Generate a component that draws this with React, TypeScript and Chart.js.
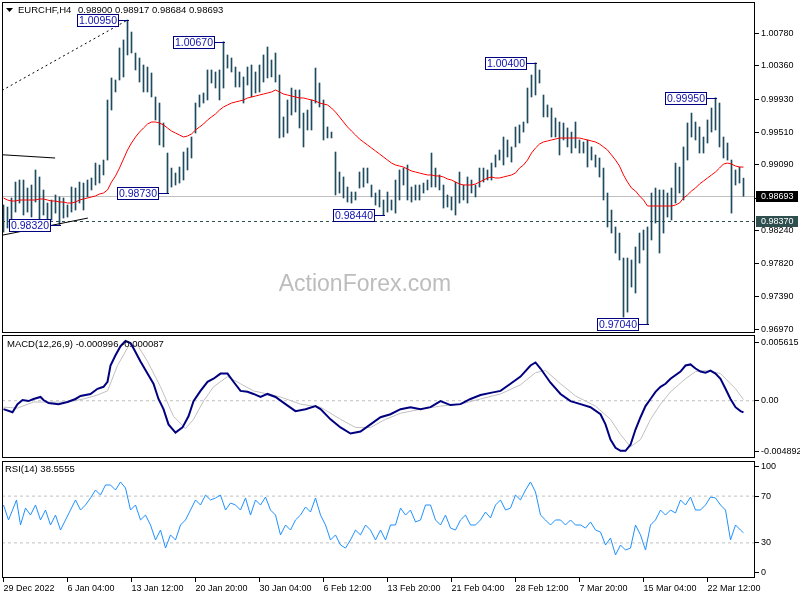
import React, { useEffect, useRef } from 'react';
import { Chart, registerables } from 'chart.js';

Chart.register(...registerables);

const FONT = "'Liberation Sans', Arial, sans-serif";

// ---------- DATA ----------
const symbolTitle = 'EURCHF,H4';
const headerQuote = ['0.98900', '0.98917', '0.98684', '0.98693'];
const watermark = 'ActionForex.com';

const timeLabels = ['29 Dec 2022', '6 Jan 04:00', '13 Jan 12:00', '20 Jan 20:00', '30 Jan 04:00', '6 Feb 12:00',
  '13 Feb 20:00', '21 Feb 04:00', '28 Feb 12:00', '7 Mar 20:00', '15 Mar 04:00', '22 Mar 12:00'];
const timeLabelBars = [0, 16, 32, 48, 64, 80, 96, 112, 128, 144, 160, 176];

const barHigh = [
  0.98572, 0.98546, 0.98662, 0.98867, 0.98893, 0.98893, 0.98790, 0.98829, 0.99022, 0.98932,
  0.98765, 0.98597, 0.98636, 0.98701, 0.98675, 0.98662, 0.98572, 0.98803, 0.98790, 0.98867,
  0.98854, 0.98893, 0.98919, 0.99111, 0.99086, 0.99150, 0.99922, 1.00205, 1.00179, 1.00591,
  1.00694, 1.00950, 1.00796, 1.00526, 1.00462, 1.00372, 1.00346, 1.00269, 0.99961, 0.99883,
  0.99626, 0.99240, 0.99047, 0.98983, 0.99060, 0.99253, 0.99305, 0.99446, 0.99883, 0.99986,
  1.00012, 1.00308, 1.00308, 1.00282, 1.00308, 1.00670, 1.00501, 1.00462, 1.00346, 1.00282,
  1.00218, 1.00346, 1.00372, 1.00282, 1.00372, 1.00501, 1.00604, 1.00436, 1.00526, 1.00243,
  0.99704, 0.99922, 1.00076, 1.00051, 1.00051, 0.99754, 0.99793, 0.99922, 1.00333, 1.00140,
  0.99922, 0.99575, 0.99510, 0.99253, 0.98996, 0.98932, 0.98803, 0.98739, 0.98739, 0.98996,
  0.99047, 0.99047, 0.98829, 0.98726, 0.98765, 0.98636, 0.98739, 0.98636, 0.98893, 0.99022,
  0.99047, 0.99086, 0.98803, 0.98829, 0.98829, 0.98854, 0.98893, 0.99240, 0.99047, 0.98958,
  0.98829, 0.98701, 0.98675, 0.98867, 0.98996, 0.98829, 0.98932, 0.98893, 0.98829, 0.99047,
  0.99047, 0.99022, 0.99111, 0.99215, 0.99279, 0.99446, 0.99408, 0.99318, 0.99575, 0.99601,
  0.99639, 1.00076, 1.00243, 1.00400, 1.00308, 0.99986, 0.99858, 0.99819, 0.99691, 0.99639,
  0.99626, 0.99562, 0.99510, 0.99639, 0.99408, 0.99382, 0.99408, 0.99318, 0.99215, 0.99176,
  0.99047, 0.98726, 0.98507, 0.98289, 0.98211, 0.97890, 0.97890, 0.97864, 0.98032, 0.98211,
  0.98250, 0.98289, 0.98726, 0.98790, 0.98765, 0.98765, 0.98726, 0.98790, 0.99111, 0.99060,
  0.99318, 0.99626, 0.99754, 0.99639, 0.99575, 0.99446, 0.99665, 0.99819, 0.99950, 0.99883,
  0.99446, 0.99369, 0.99150, 0.99022, 0.99060, 0.98917,
];

const barLow = [
  0.98224, 0.98276, 0.98353, 0.98481, 0.98597, 0.98443, 0.98481, 0.98417, 0.98610, 0.98379,
  0.98443, 0.98289, 0.98379, 0.98468, 0.98320, 0.98404, 0.98417, 0.98481, 0.98507, 0.98597,
  0.98507, 0.98675, 0.98765, 0.98829, 0.98854, 0.98958, 0.99150, 0.99793, 1.00025, 1.00179,
  1.00218, 1.00501, 1.00526, 1.00308, 1.00153, 1.00025, 1.00025, 0.99961, 0.99665, 0.99344,
  0.99318, 0.98730, 0.98803, 0.98829, 0.98854, 0.98893, 0.99022, 0.99176, 0.99497, 0.99832,
  0.99883, 0.99922, 1.00140, 1.00076, 0.99922, 1.00076, 1.00333, 1.00282, 1.00089, 1.00089,
  0.99883, 1.00115, 0.99961, 1.00012, 1.00025, 1.00153, 1.00205, 1.00218, 1.00153, 0.99434,
  0.99446, 0.99497, 0.99729, 0.99767, 0.99562, 0.99318, 0.99536, 0.99536, 0.99883, 0.99832,
  0.99408, 0.99434, 0.99434, 0.98701, 0.98726, 0.98662, 0.98610, 0.98597, 0.98636, 0.98790,
  0.98803, 0.98854, 0.98675, 0.98572, 0.98546, 0.98440, 0.98481, 0.98507, 0.98468, 0.98636,
  0.98829, 0.98636, 0.98610, 0.98636, 0.98636, 0.98726, 0.98765, 0.98803, 0.98803, 0.98765,
  0.98533, 0.98546, 0.98507, 0.98443, 0.98597, 0.98636, 0.98597, 0.98726, 0.98675, 0.98803,
  0.98867, 0.98893, 0.98893, 0.99060, 0.99150, 0.99086, 0.99189, 0.99124, 0.99318, 0.99369,
  0.99510, 0.99626, 0.99961, 0.99986, 1.00140, 0.99704, 0.99704, 0.99446, 0.99446, 0.99215,
  0.99408, 0.99318, 0.99240, 0.99305, 0.99240, 0.99240, 0.99060, 0.99150, 0.99060, 0.98932,
  0.98636, 0.98289, 0.98211, 0.97954, 0.97864, 0.97131, 0.97195, 0.97517, 0.97440, 0.97825,
  0.97993, 0.97040, 0.98122, 0.98340, 0.97954, 0.98211, 0.98417, 0.98379, 0.98597, 0.98726,
  0.98636, 0.99150, 0.99446, 0.99408, 0.99240, 0.99240, 0.99369, 0.99510, 0.99536, 0.99318,
  0.99176, 0.99150, 0.98468, 0.98829, 0.98854, 0.98684,
];

const maValues = [
  0.98662, 0.98636, 0.98623, 0.98623, 0.98636, 0.98636, 0.98636, 0.98636, 0.98636, 0.98649,
  0.98649, 0.98636, 0.98623, 0.98623, 0.98610, 0.98610, 0.98597, 0.98597, 0.98610, 0.98636,
  0.98649, 0.98662, 0.98675, 0.98688, 0.98714, 0.98726, 0.98765, 0.98867, 0.98945, 0.99047,
  0.99163, 0.99279, 0.99369, 0.99446, 0.99510, 0.99562, 0.99613, 0.99639, 0.99639, 0.99626,
  0.99601, 0.99562, 0.99523, 0.99497, 0.99472, 0.99446, 0.99459, 0.99485, 0.99536, 0.99575,
  0.99613, 0.99665, 0.99704, 0.99742, 0.99793, 0.99832, 0.99858, 0.99883, 0.99896, 0.99909,
  0.99922, 0.99948, 0.99961, 0.99973, 0.99986, 0.99999, 1.00012, 1.00025, 1.00051, 1.00025,
  0.99999, 0.99986, 0.99973, 0.99961, 0.99948, 0.99948, 0.99935, 0.99922, 0.99909, 0.99883,
  0.99870, 0.99858, 0.99819, 0.99767, 0.99704, 0.99639, 0.99575, 0.99523, 0.99472, 0.99420,
  0.99382, 0.99344, 0.99305, 0.99266, 0.99228, 0.99189, 0.99150, 0.99111, 0.99086, 0.99073,
  0.99060, 0.99034, 0.99009, 0.98996, 0.98983, 0.98970, 0.98958, 0.98958, 0.98945, 0.98945,
  0.98932, 0.98906, 0.98893, 0.98867, 0.98842, 0.98829, 0.98829, 0.98829, 0.98842, 0.98867,
  0.98893, 0.98919, 0.98932, 0.98919, 0.98919, 0.98932, 0.98945, 0.98958, 0.98983, 0.99047,
  0.99086, 0.99150, 0.99240, 0.99305, 0.99356, 0.99382, 0.99395, 0.99408, 0.99420, 0.99433,
  0.99433, 0.99433, 0.99433, 0.99433, 0.99433, 0.99420, 0.99408, 0.99395, 0.99382, 0.99356,
  0.99318, 0.99279, 0.99215, 0.99150, 0.99073, 0.98958, 0.98867, 0.98790, 0.98752, 0.98688,
  0.98636, 0.98559, 0.98559, 0.98559, 0.98559, 0.98559, 0.98559, 0.98559, 0.98572, 0.98597,
  0.98662, 0.98701, 0.98752, 0.98790, 0.98842, 0.98880, 0.98919, 0.98958, 0.98996, 0.99047,
  0.99099, 0.99111, 0.99099, 0.99073, 0.99060, 0.99060,
];

const priceTicks = [0.9697, 0.9739, 0.9782, 0.9824, 0.9866, 0.9909, 0.9951, 0.9993, 1.0036, 1.0078];
const priceMin = 0.96926;
const priceMax = 1.01182;
const lastPrice = 0.98693;
const supportLevel = 0.9837;

const markBars = [31, 14, 41, 55, 95, 133, 161, 178];
const markPrices = [1.0095, 0.9832, 0.9873, 1.0067, 0.9844, 1.004, 0.9704, 0.9995];

const trendDotX = [-0.375, 31];
const trendDotY = [1.00045, 1.0095];
const trendUpperX = [-0.375, 12.9];
const trendUpperY = [0.99218, 0.99176];
const trendLowerX = [-0.375, 21.1];
const trendLowerY = [0.98183, 0.98404];

const macdIdx = [0, 2.25, 3.5, 4.75, 6.25, 7.5, 9.25, 10, 11.25, 13.75, 16, 18, 19.25, 21.75, 23.5, 25, 26, 26.75, 28,
  29.25, 30.5, 31.75, 32.5, 34.25, 36, 37.5, 38.75, 40, 41.25, 43, 44.75, 46.25, 47.5, 49.25, 51, 52.5, 54.25, 56,
  57.5, 59.25, 61, 62.5, 64.25, 66, 68, 70.5, 73, 75.5, 78, 79.25, 81.75, 84.25, 86.75, 89.25, 91.75, 94.25, 96.75,
  99.25, 101.75, 104.25, 106.75, 109.25, 111.75, 114.25, 116.75, 119.25, 121.75, 124.25, 126.75, 129.25, 131.75,
  133, 134.25, 136.75, 139.25, 141.75, 144.25, 146.75, 149.25, 150.5, 151.75, 153, 154.25, 155.5, 156.75, 158,
  159.25, 160.5, 161.75, 163, 164.25, 165.5, 166.75, 169.25, 170.5, 171.75, 173, 174.25, 175.5, 176.75, 178,
  179.25, 180.5, 181.75, 183, 184.25, 185];
const macdVal = [-0.00072, -0.00098, -0.00029, 0.00006, -0.00003, 0.00015, 0.00032, 0.00006, -0.0002, -0.00029,
  -0.00011, 0.00015, 0.00041, 0.00058, 0.00102, 0.00119, 0.00162, 0.00301, 0.00388, 0.00466, 0.0051, 0.00492,
  0.00449, 0.00336, 0.00232, 0.00145, 0.00015, -0.00072, -0.00202, -0.00272, -0.00228, -0.00133, -0.00003, 0.00084,
  0.00162, 0.00188, 0.00232, 0.00232, 0.00162, 0.00084, 0.00076, 0.00058, 0.00032, 0.00058, 0.00032, -0.00029,
  -0.00089, -0.00072, -0.00046, -0.00072, -0.00159, -0.00228, -0.0028, -0.00263, -0.00202, -0.00141, -0.00115,
  -0.00072, -0.00055, -0.00072, -0.00055, -0.00003, -0.00037, -0.00029, 0.00015, 0.00049, 0.00067, 0.00084,
  0.00145, 0.00206, 0.00301, 0.00327, 0.00275, 0.00154, 0.00058, -0.00003, -0.00029, -0.00055, -0.00115, -0.00202,
  -0.00332, -0.00402, -0.00428, -0.00428, -0.00376, -0.00246, -0.00141, -0.00046, 0.00015, 0.00076, 0.00119,
  0.00145, 0.00188, 0.00249, 0.00301, 0.0031, 0.00275, 0.00249, 0.0024, 0.00258, 0.00232, 0.00188, 0.00102,
  0.00015, -0.00055, -0.00089, -0.001];

const signalIdx = [0, 3.5, 7.5, 11.75, 16, 20, 23.5, 26, 28.5, 31.25, 33.5, 36, 39.25, 42.5, 45.5, 47.5, 50, 52.5,
  56, 59.25, 62.5, 66, 69.25, 74.25, 79.25, 84.25, 88, 91.75, 95.5, 99.25, 104.25, 109.25, 114.25, 119.25, 124.25,
  129.25, 133, 135.5, 139.25, 143, 148, 151.75, 154.25, 156.75, 159.25, 161.75, 164.25, 166.75, 170.5, 173, 175.5,
  179.25, 183, 185];
const signalVal = [-0.00055, -0.00063, -0.00011, -0.00011, -0.00011, 0.00015, 0.00049, 0.00084, 0.00301, 0.00466,
  0.00475, 0.00336, 0.00119, -0.00133, -0.00237, -0.00159, -0.00003, 0.00119, 0.00206, 0.00145, 0.00084, 0.00058,
  0.00032, -0.00029, -0.00055, -0.00159, -0.00228, -0.00228, -0.00159, -0.00107, -0.00072, -0.00046, -0.00029,
  0.00015, 0.00058, 0.00136, 0.0024, 0.00258, 0.00145, 0.00041, -0.00046, -0.00159, -0.00289, -0.00393, -0.00332,
  -0.00159, -0.00029, 0.00076, 0.00188, 0.00249, 0.00258, 0.00232, 0.00102, 0.0001];

const macdMin = -0.004892;
const macdMax = 0.005615;
const macdTickPos = [0.0050, 0, -0.00436];
const macdTickText = ['0.005615', '0.00', '-0.004892'];
const macdHeader = 'MACD(12,26,9) -0.000996 -0.000087';

const rsiIdx = [0, 1.25, 2.25, 3.25, 4.25, 5.5, 6.75, 8, 9.25, 10.5, 11.75, 13, 14.25, 15.5, 16.75, 18, 19.25, 20.5,
  21.75, 23, 24.25, 25.5, 26.75, 28, 29.25, 30.5, 31.75, 33, 34.25, 35.5, 36.75, 38, 39.25, 40.5, 41.75, 43, 44.25,
  45.5, 46.75, 48, 49.25, 50.5, 51.75, 53, 54.25, 55.5, 56.75, 58, 59.25, 60.5, 61.75, 63, 64.25, 65.5, 66.75, 68,
  69.25, 70.5, 71.75, 73, 74.25, 75.5, 76.75, 78, 79.25, 80.5, 81.75, 83, 84.25, 85.5, 86.75, 88, 89.25, 90.5,
  91.75, 93, 94.25, 95.5, 96.75, 98, 99.25, 100.5, 101.75, 103, 104.25, 105.5, 106.75, 108, 109.25, 110.5, 111.75,
  113, 114.25, 115.5, 116.75, 118, 119.25, 120.5, 121.75, 123, 124.25, 125.5, 126.75, 128, 129.25, 130.5, 131.75,
  133, 134.25, 135.5, 136.75, 138, 139.25, 140.5, 141.75, 143, 144.25, 145.5, 146.75, 148, 149.25, 150.5, 151.75,
  153, 154.25, 155.5, 156.75, 158, 159.25, 160.5, 161.75, 163, 164.25, 165.5, 166.75, 168, 169.25, 170.5, 171.75,
  173, 174.25, 175.5, 176.75, 178, 179.25, 180.5, 181.75, 183, 184.25, 185];
const rsiVal = [62.4, 49.6, 58.1, 66.7, 45.3, 59.8, 53.8, 62.4, 49.6, 58.1, 45.3, 53.8, 41.0, 49.6, 58.1, 66.7, 58.1,
  62.4, 68.4, 75.2, 70.9, 79.5, 79.5, 75.2, 82.1, 76.9, 58.1, 62.4, 49.6, 53.8, 45.3, 32.5, 41.0, 25.6, 36.8, 32.5,
  45.3, 49.6, 58.1, 66.7, 62.4, 70.9, 66.7, 68.4, 70.9, 58.1, 64.1, 62.4, 58.1, 68.4, 53.8, 66.7, 62.4, 69.2, 58.1,
  53.8, 36.8, 45.3, 41.0, 49.6, 53.8, 60.7, 56.4, 68.4, 53.8, 45.3, 32.5, 36.8, 28.2, 25.6, 32.5, 41.0, 36.8, 45.3,
  41.0, 32.5, 41.0, 32.5, 45.3, 45.3, 59.8, 53.8, 58.1, 47.9, 49.6, 62.4, 62.4, 49.6, 45.3, 53.8, 42.7, 41.0, 49.6,
  53.8, 45.3, 45.3, 49.6, 56.4, 51.3, 62.4, 66.7, 58.1, 59.8, 70.9, 66.7, 75.2, 82.1, 73.5, 53.8, 49.6, 45.3, 49.6,
  49.6, 45.3, 49.6, 45.3, 45.3, 42.7, 47.9, 41.0, 39.3, 28.2, 34.2, 19.7, 28.2, 23.9, 25.6, 45.3, 36.8, 23.9, 45.3,
  49.6, 58.1, 53.8, 58.1, 55.6, 66.7, 62.4, 69.2, 58.1, 58.1, 62.4, 69.2, 68.4, 62.4, 58.1, 32.5, 45.3, 41.0, 38.6];
const rsiLevels = [70, 30];
const rsiTickPos = [95.2, 70, 30, 4.6];
const rsiTickText = ['100', '70', '30', '0'];
const rsiHeader = 'RSI(14) 38.5555';

// ---------- STYLE ----------
const X_MIN = -0.375;
const X_MAX = 187.875;
const BAR_COLOR = '#1d4b60';
const AXIS_W = 45;

const pts = (xs: number[], ys: number[]) => xs.map((x, i) => ({ x, y: ys[i] }));

const framePlugin = {
  id: 'frame',
  afterDraw(chart: any) {
    const { ctx, chartArea: a } = chart;
    ctx.save();
    ctx.strokeStyle = '#000';
    ctx.lineWidth = 1;
    ctx.strokeRect(a.left + 0.5, a.top + 0.5, a.right - a.left - 1, a.bottom - a.top - 1);
    ctx.restore();
  },
};

const zeroPad = (s: any) => {
  s.paddingTop = 0; s.paddingBottom = 0; s.paddingLeft = 0; s.paddingRight = 0;
};

const hiddenX = { type: 'linear', min: X_MIN, max: X_MAX, display: false, offset: false };

const rightAxis = (extra: any) => ({
  type: 'linear',
  position: 'right',
  afterFit: (s: any) => { s.width = AXIS_W; zeroPad(s); },
  grid: { display: true, drawOnChartArea: false, drawTicks: true, tickLength: 4, color: '#000' },
  border: { display: false },
  ...extra,
});

const tickFont = { family: FONT, size: 9 };

const pricePlugin = {
  id: 'priceDecor',
  beforeDatasetsDraw(chart: any) {
    const { ctx, chartArea: a, scales } = chart;
    const y = scales.y;
    ctx.save();
    ctx.font = `23px ${FONT}`;
    ctx.fillStyle = '#bdbdbd';
    ctx.textAlign = 'center';
    ctx.textBaseline = 'middle';
    ctx.fillText(watermark, 365, 285);
    ctx.lineWidth = 1;
    const yp = Math.round(y.getPixelForValue(lastPrice)) + 0.5;
    ctx.strokeStyle = '#c0c0c0';
    ctx.beginPath(); ctx.moveTo(a.left, yp); ctx.lineTo(a.right, yp); ctx.stroke();
    const ys = Math.round(y.getPixelForValue(supportLevel)) + 0.5;
    ctx.strokeStyle = '#2f4f4f';
    ctx.setLineDash([3, 3]);
    ctx.beginPath(); ctx.moveTo(a.left, ys); ctx.lineTo(a.right, ys); ctx.stroke();
    ctx.restore();
  },
  afterDatasetsDraw(chart: any) {
    const { ctx, scales } = chart;
    const { x, y } = scales;
    ctx.save();
    ctx.lineWidth = 1;
    ctx.font = `10.5px ${FONT}`;
    ctx.textAlign = 'center';
    ctx.textBaseline = 'middle';
    markBars.forEach((b, k) => {
      const bx = Math.round(x.getPixelForValue(b));
      const py = Math.round(y.getPixelForValue(markPrices[k])) + 0.5;
      const right = bx - 9;
      const left = right - 42;
      ctx.strokeStyle = '#000080';
      ctx.beginPath(); ctx.moveTo(right, py); ctx.lineTo(bx + 1, py); ctx.stroke();
      ctx.fillStyle = '#fff';
      ctx.fillRect(left, py - 6.5, 42, 13);
      ctx.strokeRect(left + 0.5, py - 6, 41, 12);
      ctx.fillStyle = '#1010b0';
      ctx.fillText(markPrices[k].toFixed(5), left + 21, py + 0.5);
    });
    ctx.restore();
  },
  afterDraw(chart: any) {
    const { ctx, chartArea: a, scales } = chart;
    const y = scales.y;
    ctx.save();
    const boxes = [
      { v: lastPrice, bg: '#000' },
      { v: supportLevel, bg: '#2f4f4f' },
    ];
    ctx.font = `9px ${FONT}`;
    ctx.textAlign = 'left';
    ctx.textBaseline = 'middle';
    boxes.forEach((b) => {
      const py = Math.round(y.getPixelForValue(b.v));
      ctx.fillStyle = b.bg;
      ctx.fillRect(a.right + 1, py - 5, 42, 11);
      ctx.fillStyle = '#fff';
      ctx.fillText(b.v.toFixed(5), a.right + 6, py + 0.5);
    });
    // header
    ctx.fillStyle = '#000';
    ctx.beginPath(); ctx.moveTo(6, 8); ctx.lineTo(13, 8); ctx.lineTo(9.5, 12); ctx.closePath(); ctx.fill();
    ctx.font = `9.5px ${FONT}`;
    ctx.fillText(symbolTitle, 18, 10.5);
    ctx.fillText(headerQuote.join(' '), 78, 10.5);
    ctx.restore();
  },
};

const headerPlugin = (id: string, text: string, px: number, py: number) => ({
  id,
  afterDraw(chart: any) {
    const { ctx } = chart;
    ctx.save();
    ctx.font = `9.5px ${FONT}`;
    ctx.fillStyle = '#000';
    ctx.textAlign = 'left';
    ctx.textBaseline = 'middle';
    ctx.fillText(text, px, py);
    ctx.restore();
  },
});

export default function App() {
  const priceRef = useRef<HTMLCanvasElement>(null);
  const macdRef = useRef<HTMLCanvasElement>(null);
  const rsiRef = useRef<HTMLCanvasElement>(null);

  useEffect(() => {
    Chart.defaults.font.family = FONT;
    const common = {
      responsive: false,
      animation: false,
      events: [],
      plugins: { legend: { display: false }, tooltip: { enabled: false } },
    };

    const price = new Chart(priceRef.current!, {
      type: 'bar',
      data: {
        datasets: [
          {
            type: 'line', data: pts(maValues.map((_, i) => i), maValues), borderColor: '#ff0000', borderWidth: 1,
            pointRadius: 0, tension: 0, order: 1,
          },
          {
            type: 'line', data: pts(trendDotX, trendDotY), borderColor: '#000', borderWidth: 1, borderDash: [2, 3],
            pointRadius: 0, order: 1,
          },
          { type: 'line', data: pts(trendUpperX, trendUpperY), borderColor: '#000', borderWidth: 1, pointRadius: 0, order: 1 },
          { type: 'line', data: pts(trendLowerX, trendLowerY), borderColor: '#000', borderWidth: 1, pointRadius: 0, order: 1 },
          {
            type: 'bar', data: barHigh.map((h, i) => ({ x: i, y: [barLow[i], h] })), backgroundColor: BAR_COLOR,
            barThickness: 1, borderWidth: 0, order: 2,
          },
        ],
      } as any,
      options: {
        ...common,
        layout: { padding: { left: 2, top: 2, bottom: 1, right: 0 }, autoPadding: false },
        scales: {
          x: hiddenX,
          y: rightAxis({
            min: priceMin, max: priceMax,
            afterBuildTicks: (s: any) => { s.ticks = priceTicks.map((v) => ({ value: v })); },
            ticks: { callback: (v: any) => Number(v).toFixed(5), font: tickFont, color: '#000', padding: 2 },
          }),
        },
      } as any,
      plugins: [pricePlugin, framePlugin],
    });

    const macd = new Chart(macdRef.current!, {
      type: 'line',
      data: {
        datasets: [
          { data: pts(macdIdx, macdVal), borderColor: '#000080', borderWidth: 2, pointRadius: 0, tension: 0, order: 1 },
          { data: pts(signalIdx, signalVal), borderColor: '#c0c0c0', borderWidth: 1, pointRadius: 0, tension: 0, order: 2 },
          {
            data: pts([X_MIN, X_MAX], [0, 0]), borderColor: '#c0c0c0', borderWidth: 1, borderDash: [3, 3],
            pointRadius: 0, order: 3,
          },
        ],
      } as any,
      options: {
        ...common,
        layout: { padding: { left: 2, top: 1, bottom: 2, right: 0 }, autoPadding: false },
        scales: {
          x: hiddenX,
          y: rightAxis({
            min: macdMin, max: macdMax,
            afterBuildTicks: (s: any) => { s.ticks = macdTickPos.map((v) => ({ value: v })); },
            ticks: { callback: (_v: any, i: number) => macdTickText[i], font: tickFont, color: '#000', padding: 2 },
          }),
        },
      } as any,
      plugins: [framePlugin, headerPlugin('macdHead', macdHeader, 7, 10)],
    });

    const rsi = new Chart(rsiRef.current!, {
      type: 'line',
      data: {
        datasets: [
          { data: pts(rsiIdx, rsiVal), borderColor: '#1e90ff', borderWidth: 1, pointRadius: 0, tension: 0, order: 1 },
          ...rsiLevels.map((lv) => ({
            data: pts([X_MIN, X_MAX], [lv, lv]), borderColor: '#c0c0c0', borderWidth: 1, borderDash: [3, 3],
            pointRadius: 0, order: 3,
          })),
        ],
      } as any,
      options: {
        ...common,
        layout: { padding: { left: 2, top: 1, bottom: 0, right: 0 }, autoPadding: false },
        scales: {
          x: {
            type: 'linear', min: X_MIN, max: X_MAX, offset: false, position: 'bottom',
            afterBuildTicks: (s: any) => { s.ticks = timeLabelBars.map((v) => ({ value: v })); },
            afterFit: (s: any) => { s.height = 22; zeroPad(s); },
            ticks: {
              autoSkip: false, maxRotation: 0, minRotation: 0, align: 'start', padding: 1,
              font: tickFont, color: '#000', callback: (_v: any, i: number) => timeLabels[i],
            },
            grid: { display: true, drawOnChartArea: false, drawTicks: true, tickLength: 4, color: '#000' },
            border: { display: false },
          },
          y: rightAxis({
            min: 0, max: 100,
            afterBuildTicks: (s: any) => { s.ticks = rsiTickPos.map((v) => ({ value: v })); },
            ticks: { callback: (_v: any, i: number) => rsiTickText[i], font: tickFont, color: '#000', padding: 2 },
          }),
        },
      } as any,
      plugins: [framePlugin, headerPlugin('rsiHead', rsiHeader, 5, 9)],
    });

    return () => { price.destroy(); macd.destroy(); rsi.destroy(); };
  }, []);

  return (
    <div style={{ position: 'fixed', left: 0, top: 0, width: 800, height: 600, background: '#fff', overflow: 'hidden' }}>
      <canvas ref={priceRef} width={800} height={334} style={{ position: 'absolute', left: 0, top: 0 }} />
      <canvas ref={macdRef} width={800} height={126} style={{ position: 'absolute', left: 0, top: 334 }} />
      <canvas ref={rsiRef} width={800} height={140} style={{ position: 'absolute', left: 0, top: 460 }} />
    </div>
  );
}
